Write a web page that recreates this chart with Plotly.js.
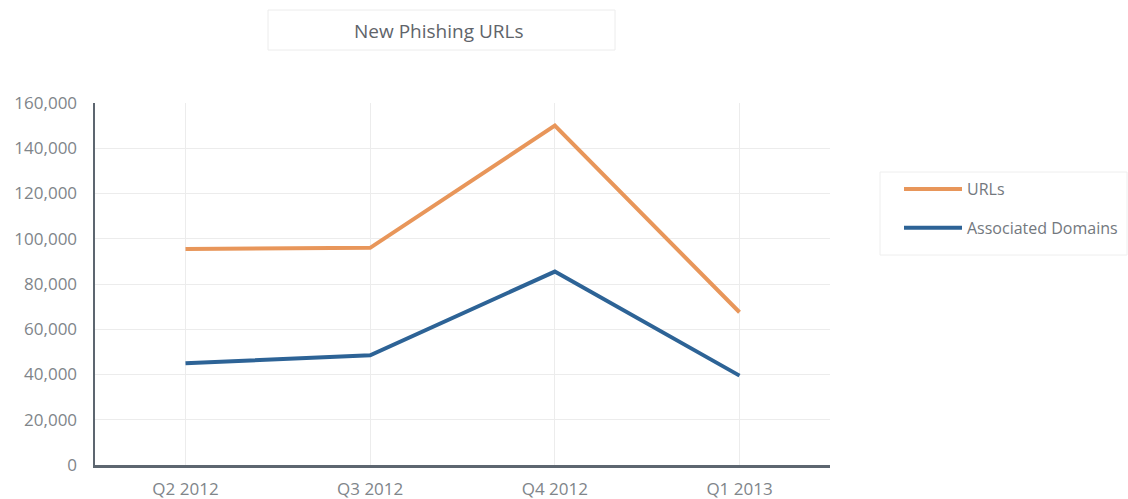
<!DOCTYPE html>
<html>
<head>
<meta charset="utf-8">
<script src="https://cdn.plot.ly/plotly-3.0.1.min.js"></script>
<style>html,body{margin:0;padding:0;background:#fff;}#chart{width:1128px;height:499px;}</style>
</head>
<body>
<div id="chart"></div>
<script>
const quarters = ["Q2 2012", "Q3 2012", "Q4 2012", "Q1 2013"];
const urls = [95500, 96000, 150000, 67500];
const domains = [45000, 48500, 85500, 39500];
const seriesNames = ["URLs", "Associated Domains"];
const yTicks = [0, 20000, 40000, 60000, 80000, 100000, 120000, 140000, 160000];
const yTickLabels = ["0", "20,000", "40,000", "60,000", "80,000", "100,000", "120,000", "140,000", "160,000"];

const traces = [
  {x: quarters, y: urls, name: seriesNames[0], type: "scatter", mode: "lines",
   line: {color: "#E8965A", width: 4}, legendgroup: "a"},
  {x: quarters, y: domains, name: seriesNames[1], type: "scatter", mode: "lines",
   line: {color: "#2D6396", width: 4}, legendgroup: "b"}
];

const layout = {
  width: 1128, height: 499,
  margin: {l: 95, r: 298, t: 103, b: 34, autoexpand: false},
  paper_bgcolor: "#fff", plot_bgcolor: "#fff",
  font: {family: "Open Sans, sans-serif", color: "#80858a", size: 13},
  showlegend: true,
  legend: {
    xref: "container", yref: "container",
    x: 899 / 1128, xanchor: "left", y: (499 - 172) / 499, yanchor: "top",
    borderwidth: 0, bgcolor: "rgba(0,0,0,0)",
    font: {size: 16, color: "#73787e"},
    traceorder: "grouped", tracegroupgap: 15,
    itemwidth: 58
  },
  xaxis: {
    type: "category", range: [-0.49, 3.49],
    showgrid: true, gridcolor: "#ececec", gridwidth: 1,
    showline: true, linecolor: "#5d6670", linewidth: 2.5,
    ticks: "", ticklabelstandoff: 7, zeroline: false,
    tickfont: {size: 17, color: "#80858a"}, fixedrange: true
  },
  yaxis: {
    range: [0, 160000], tickvals: yTicks, ticktext: yTickLabels,
    showgrid: true, gridcolor: "#ececec", gridwidth: 1,
    showline: true, linecolor: "#5d6670", linewidth: 2.5,
    ticks: "", ticklabelstandoff: 12, zeroline: false,
    tickfont: {size: 17, color: "#80858a"}, fixedrange: true
  },
  shapes: [{
    type: "rect", xref: "paper", yref: "paper",
    x0: (268 - 95) / 735, x1: (615 - 95) / 735,
    y0: (465 - 50) / 362, y1: (465 - 10) / 362,
    line: {color: "#ececec", width: 1}, fillcolor: "rgba(0,0,0,0)"
  }, {
    type: "rect", xref: "paper", yref: "paper",
    x0: (880 - 95) / 735, x1: (1127 - 95) / 735,
    y0: (465 - 255) / 362, y1: (465 - 172) / 362,
    line: {color: "#eeeeee", width: 1}, fillcolor: "rgba(0,0,0,0)"
  }],
  annotations: [{
    text: "New Phishing URLs", xref: "paper", yref: "paper",
    x: (438 - 95) / 735, y: (465 - 31) / 362,
    xanchor: "center", yanchor: "middle", showarrow: false,
    font: {size: 19, color: "#5f646a"}
  }]
};

Plotly.newPlot("chart", traces, layout, {displayModeBar: false, staticPlot: true});
</script>
</body>
</html>
